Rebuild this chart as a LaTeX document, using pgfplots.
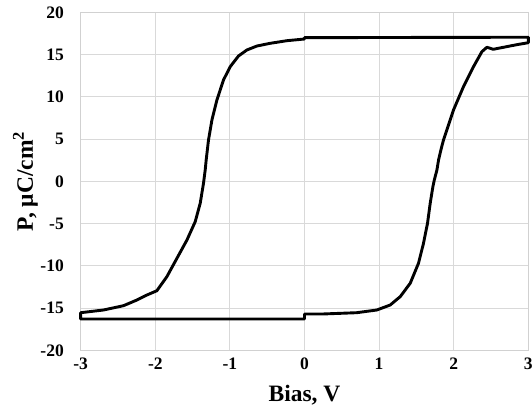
\documentclass[border=0pt]{standalone}
\usepackage{pgfplots}
\pgfplotsset{compat=1.18}
\usepackage{fontspec}
\setmainfont{Liberation Serif}

% P-V hysteresis loop, one closed path
\pgfplotstableread{
x y
0 -15.7
0.255 -15.7
0.70 -15.55
0.97 -15.23
1.149 -14.64
1.283 -13.65
1.417 -12.07
1.528 -9.7
1.595 -7.34
1.649 -4.97
1.685 -2.6
1.721 -0.64
1.74 0.15
1.775 1.34
1.797 2.52
1.828 3.7
1.863 4.89
1.997 8.44
2.131 11.2
2.265 13.56
2.378 15.34
2.445 15.86
2.49 15.74
2.53 15.62
2.667 15.86
2.847 16.17
3.0 16.4
3.0 17.05
0 17.0
0 16.84
-0.236 16.64
-0.46 16.33
-0.638 16.01
-0.772 15.54
-0.885 14.83
-0.996 13.56
-1.086 11.99
-1.174 9.62
-1.241 7.25
-1.287 4.88
-1.318 2.52
-1.331 1.34
-1.354 -0.24
-1.398 -2.6
-1.465 -4.78
-1.576 -6.95
-1.71 -9.11
-1.845 -11.29
-1.979 -12.95
-2.113 -13.46
-2.247 -14.05
-2.426 -14.72
-2.694 -15.23
-3 -15.55
-3 -16.3
0 -16.3
0 -15.7
}\loopdata

\begin{document}
\begin{tikzpicture}
\begin{axis}[
  scale only axis,
  width=447.6bp, height=338bp,
  xmin=-3, xmax=3, ymin=-20, ymax=20,
  xtick={-3,-2,-1,0,1,2,3},
  xticklabels={-3,-2,-1,0,1,2,3},
  ytick={-20,-15,-10,-5,0,5,10,15,20},
  yticklabels={-20,-15,-10,-5,0,5,10,15,20},
  grid=major,
  major grid style={draw=black!15, line width=0.9bp},
  axis line style={draw=black!18, line width=0.9bp},
  major tick length=0pt,
  tick style={draw=none},
  clip=false,
  ticklabel style={font=\fontsize{17.5bp}{20bp}\selectfont\bfseries, inner sep=0pt},
  xticklabel style={anchor=north, yshift=-7.7bp},
  yticklabel style={anchor=east, xshift=-16.7bp},
  xlabel={Bias, V},
  ylabel={P, μC/cm\textsuperscript{2}},
  label style={font=\fontsize{23.5bp}{26bp}\selectfont\bfseries, inner sep=0pt},
  xlabel style={at={(axis description cs:0.5,-0.15)}, anchor=base},
  ylabel style={at={(axis description cs:-0.1066,0.5)}, anchor=base, rotate=0},
]
\addplot[black, line width=2.9bp, line join=round, line cap=round] table[x=x, y=y] {\loopdata};
\coordinate (sw) at (rel axis cs:0,0);
\coordinate (ne) at (rel axis cs:1,1);
\end{axis}
\pgfresetboundingbox
\path ([shift={(-80.7bp,-64.7bp)}]sw) rectangle ([shift={(3.7bp,12.3bp)}]ne);
\end{tikzpicture}
\end{document}
